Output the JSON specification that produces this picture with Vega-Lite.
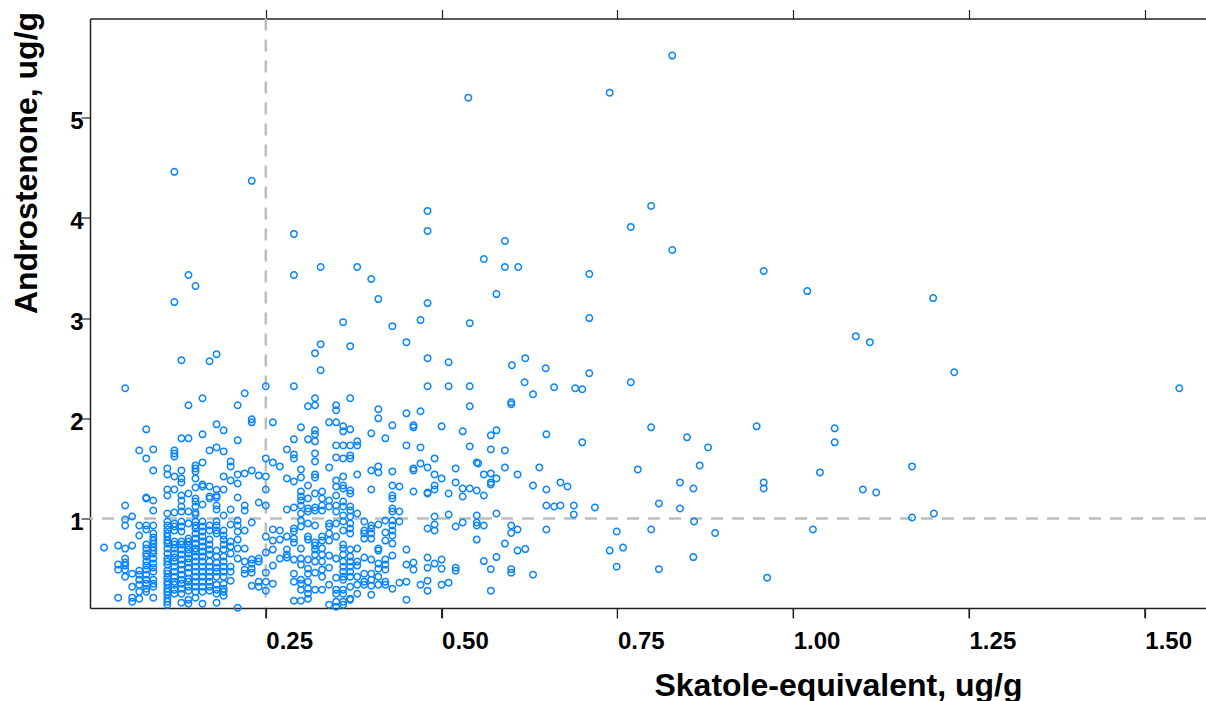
{"$schema":"https://vega.github.io/schema/vega-lite/v6.json","width":1116,"height":589.5,"autosize":"none","padding":{"left":90,"top":18.5,"right":0,"bottom":93},"background":"white","config":{"view":{"stroke":null},"axis":{"grid":false,"labelFont":"Liberation Sans","labelFontWeight":"bold","labelFontSize":24,"labelColor":"#000","titleFont":"Liberation Sans","titleFontWeight":"bold","titleFontSize":32,"titleColor":"#000","domainColor":"#222","domainWidth":1.5,"tickColor":"#222","tickWidth":1.2}},"resolve":{"axis":{"x":"independent"}},"layer":[{"data":{"values":[{"x":0.25}]},"mark":{"type":"rule","color":"#bdbdbd","strokeWidth":2.5,"strokeDash":[12,9]},"encoding":{"x":{"field":"x","type":"quantitative","scale":{"domain":[0,1.587],"nice":false,"zero":false},"axis":{"orient":"top","values":[0.25,0.5,0.75,1,1.25,1.5],"labels":false,"tickSize":9,"title":null}}}},{"data":{"values":[{"y":1}]},"mark":{"type":"rule","color":"#bdbdbd","strokeWidth":2.5,"strokeDash":[12,9]},"encoding":{"y":{"field":"y","type":"quantitative","scale":{"domain":[0.107,5.99],"nice":false,"zero":false},"axis":{"values":[1,2,3,4,5],"format":"d","tickSize":9,"labelPadding":-2,"labelOffset":4,"labelFlush":false,"title":"Androstenone, ug/g","titleX":-54,"titleY":144,"titleAnchor":"middle","titleAlign":"center","titleBaseline":"alphabetic"}}}},{"data":{"values":[{"x":0.25,"y":0.107},{"x":0.5,"y":0.107},{"x":0.75,"y":0.107},{"x":1,"y":0.107},{"x":1.25,"y":0.107},{"x":1.5,"y":0.107}]},"mark":{"type":"tick","orient":"vertical","color":"#222","size":10,"thickness":1.2,"yOffset":5,"opacity":1},"encoding":{"x":{"field":"x","type":"quantitative","scale":{"domain":[0,1.587],"nice":false,"zero":false},"axis":null},"y":{"field":"y","type":"quantitative","scale":{"domain":[0.107,5.99],"nice":false,"zero":false}}}},{"data":{"values":[
{"x":0.02,"y":0.71},{"x":0.04,"y":0.73},{"x":0.04,"y":0.54},{"x":0.04,"y":0.49},{"x":0.04,"y":0.21},
{"x":0.05,"y":2.3},{"x":0.05,"y":1.13},{"x":0.05,"y":0.99},{"x":0.05,"y":0.93},{"x":0.05,"y":0.7},{"x":0.05,"y":0.6},{"x":0.05,"y":0.56},{"x":0.05,"y":0.53},{"x":0.05,"y":0.49},{"x":0.05,"y":0.42},
{"x":0.06,"y":1.02},{"x":0.06,"y":0.73},{"x":0.06,"y":0.45},{"x":0.06,"y":0.32},{"x":0.06,"y":0.21},{"x":0.06,"y":0.17},
{"x":0.07,"y":1.68},{"x":0.07,"y":0.93},{"x":0.07,"y":0.83},{"x":0.07,"y":0.48},{"x":0.07,"y":0.44},{"x":0.07,"y":0.39},{"x":0.07,"y":0.34},{"x":0.07,"y":0.27},{"x":0.07,"y":0.2},
{"x":0.08,"y":1.89},{"x":0.08,"y":1.6},{"x":0.08,"y":1.21},{"x":0.08,"y":1.2},{"x":0.08,"y":0.93},{"x":0.08,"y":0.89},{"x":0.08,"y":0.74},{"x":0.08,"y":0.7},{"x":0.08,"y":0.65},{"x":0.08,"y":0.62},{"x":0.08,"y":0.57},{"x":0.08,"y":0.53},{"x":0.08,"y":0.49},{"x":0.08,"y":0.44},{"x":0.08,"y":0.39},{"x":0.08,"y":0.35},{"x":0.08,"y":0.3},{"x":0.08,"y":0.27},
{"x":0.09,"y":1.69},{"x":0.09,"y":1.48},{"x":0.09,"y":1.18},{"x":0.09,"y":1.08},{"x":0.09,"y":0.93},{"x":0.09,"y":0.85},{"x":0.09,"y":0.81},{"x":0.09,"y":0.78},{"x":0.09,"y":0.75},{"x":0.09,"y":0.71},{"x":0.09,"y":0.68},{"x":0.09,"y":0.65},{"x":0.09,"y":0.6},{"x":0.09,"y":0.55},{"x":0.09,"y":0.51},{"x":0.09,"y":0.47},{"x":0.09,"y":0.39},{"x":0.09,"y":0.35},{"x":0.09,"y":0.32},{"x":0.09,"y":0.21},
{"x":0.11,"y":1.5},{"x":0.11,"y":1.44},{"x":0.11,"y":1.29},{"x":0.11,"y":1.23},{"x":0.11,"y":1.05},{"x":0.11,"y":0.97},{"x":0.11,"y":0.93},{"x":0.11,"y":0.89},{"x":0.11,"y":0.85},{"x":0.11,"y":0.82},{"x":0.11,"y":0.78},{"x":0.11,"y":0.75},{"x":0.11,"y":0.7},{"x":0.11,"y":0.65},{"x":0.11,"y":0.6},{"x":0.11,"y":0.57},{"x":0.11,"y":0.54},{"x":0.11,"y":0.48},{"x":0.11,"y":0.45},{"x":0.11,"y":0.41},{"x":0.11,"y":0.37},{"x":0.11,"y":0.34},{"x":0.11,"y":0.3},{"x":0.11,"y":0.27},{"x":0.11,"y":0.24},{"x":0.11,"y":0.2},{"x":0.11,"y":0.17},{"x":0.11,"y":0.14},
{"x":0.12,"y":4.46},{"x":0.12,"y":3.16},{"x":0.12,"y":1.68},{"x":0.12,"y":1.65},{"x":0.12,"y":1.62},{"x":0.12,"y":1.42},{"x":0.12,"y":1.29},{"x":0.12,"y":1.06},{"x":0.12,"y":0.95},{"x":0.12,"y":0.92},{"x":0.12,"y":0.88},{"x":0.12,"y":0.77},{"x":0.12,"y":0.74},{"x":0.12,"y":0.7},{"x":0.12,"y":0.65},{"x":0.12,"y":0.61},{"x":0.12,"y":0.57},{"x":0.12,"y":0.52},{"x":0.12,"y":0.47},{"x":0.12,"y":0.42},{"x":0.12,"y":0.37},{"x":0.12,"y":0.34},{"x":0.12,"y":0.29},{"x":0.12,"y":0.25},
{"x":0.13,"y":2.58},{"x":0.13,"y":1.8},{"x":0.13,"y":1.48},{"x":0.13,"y":1.4},{"x":0.13,"y":1.36},{"x":0.13,"y":1.23},{"x":0.13,"y":1.18},{"x":0.13,"y":1.12},{"x":0.13,"y":1.07},{"x":0.13,"y":0.97},{"x":0.13,"y":0.92},{"x":0.13,"y":0.87},{"x":0.13,"y":0.77},{"x":0.13,"y":0.74},{"x":0.13,"y":0.69},{"x":0.13,"y":0.64},{"x":0.13,"y":0.59},{"x":0.13,"y":0.54},{"x":0.13,"y":0.49},{"x":0.13,"y":0.44},{"x":0.13,"y":0.39},{"x":0.13,"y":0.35},{"x":0.13,"y":0.3},{"x":0.13,"y":0.25},{"x":0.13,"y":0.16},
{"x":0.14,"y":3.43},{"x":0.14,"y":2.13},{"x":0.14,"y":1.8},{"x":0.14,"y":1.25},{"x":0.14,"y":1.07},{"x":0.14,"y":0.95},{"x":0.14,"y":0.8},{"x":0.14,"y":0.77},{"x":0.14,"y":0.73},{"x":0.14,"y":0.69},{"x":0.14,"y":0.65},{"x":0.14,"y":0.6},{"x":0.14,"y":0.56},{"x":0.14,"y":0.51},{"x":0.14,"y":0.46},{"x":0.14,"y":0.4},{"x":0.14,"y":0.37},{"x":0.14,"y":0.32},{"x":0.14,"y":0.28},{"x":0.14,"y":0.19},{"x":0.14,"y":0.15},
{"x":0.15,"y":3.32},{"x":0.15,"y":1.53},{"x":0.15,"y":1.5},{"x":0.15,"y":1.47},{"x":0.15,"y":1.4},{"x":0.15,"y":1.31},{"x":0.15,"y":1.2},{"x":0.15,"y":1.17},{"x":0.15,"y":1.12},{"x":0.15,"y":1.06},{"x":0.15,"y":1.04},{"x":0.15,"y":0.97},{"x":0.15,"y":0.93},{"x":0.15,"y":0.9},{"x":0.15,"y":0.85},{"x":0.15,"y":0.8},{"x":0.15,"y":0.75},{"x":0.15,"y":0.7},{"x":0.15,"y":0.67},{"x":0.15,"y":0.62},{"x":0.15,"y":0.57},{"x":0.15,"y":0.52},{"x":0.15,"y":0.47},{"x":0.15,"y":0.42},{"x":0.15,"y":0.37},{"x":0.15,"y":0.32},{"x":0.15,"y":0.27},{"x":0.15,"y":0.21},
{"x":0.16,"y":2.2},{"x":0.16,"y":1.84},{"x":0.16,"y":1.56},{"x":0.16,"y":1.34},{"x":0.16,"y":1.32},{"x":0.16,"y":1.14},{"x":0.16,"y":0.97},{"x":0.16,"y":0.92},{"x":0.16,"y":0.87},{"x":0.16,"y":0.82},{"x":0.16,"y":0.77},{"x":0.16,"y":0.72},{"x":0.16,"y":0.67},{"x":0.16,"y":0.62},{"x":0.16,"y":0.57},{"x":0.16,"y":0.52},{"x":0.16,"y":0.47},{"x":0.16,"y":0.42},{"x":0.16,"y":0.37},{"x":0.16,"y":0.32},{"x":0.16,"y":0.27},{"x":0.16,"y":0.15},
{"x":0.17,"y":2.57},{"x":0.17,"y":1.68},{"x":0.17,"y":1.32},{"x":0.17,"y":1.22},{"x":0.17,"y":1.2},{"x":0.17,"y":0.93},{"x":0.17,"y":0.88},{"x":0.17,"y":0.79},{"x":0.17,"y":0.74},{"x":0.17,"y":0.69},{"x":0.17,"y":0.64},{"x":0.17,"y":0.57},{"x":0.17,"y":0.52},{"x":0.17,"y":0.47},{"x":0.17,"y":0.42},{"x":0.17,"y":0.37},{"x":0.17,"y":0.32},{"x":0.17,"y":0.28},
{"x":0.18,"y":2.64},{"x":0.18,"y":1.94},{"x":0.18,"y":1.71},{"x":0.18,"y":1.29},{"x":0.18,"y":1.23},{"x":0.18,"y":1.21},{"x":0.18,"y":1.13},{"x":0.18,"y":1.09},{"x":0.18,"y":0.97},{"x":0.18,"y":0.93},{"x":0.18,"y":0.88},{"x":0.18,"y":0.85},{"x":0.18,"y":0.68},{"x":0.18,"y":0.62},{"x":0.18,"y":0.56},{"x":0.18,"y":0.51},{"x":0.18,"y":0.47},{"x":0.18,"y":0.42},{"x":0.18,"y":0.34},{"x":0.18,"y":0.29},{"x":0.18,"y":0.25},{"x":0.18,"y":0.16},
{"x":0.19,"y":1.88},{"x":0.19,"y":1.67},{"x":0.19,"y":1.42},{"x":0.19,"y":1.29},{"x":0.19,"y":1.03},{"x":0.19,"y":0.88},{"x":0.19,"y":0.83},{"x":0.19,"y":0.79},{"x":0.19,"y":0.74},{"x":0.19,"y":0.69},{"x":0.19,"y":0.62},{"x":0.19,"y":0.57},{"x":0.19,"y":0.52},{"x":0.19,"y":0.47},{"x":0.19,"y":0.42},{"x":0.19,"y":0.35},{"x":0.19,"y":0.3},{"x":0.19,"y":0.27},{"x":0.19,"y":0.23},
{"x":0.2,"y":1.57},{"x":0.2,"y":1.52},{"x":0.2,"y":1.38},{"x":0.2,"y":1.09},{"x":0.2,"y":0.94},{"x":0.2,"y":0.77},{"x":0.2,"y":0.72},{"x":0.2,"y":0.65},{"x":0.2,"y":0.52},{"x":0.2,"y":0.47},{"x":0.2,"y":0.38},
{"x":0.21,"y":2.13},{"x":0.21,"y":1.78},{"x":0.21,"y":1.44},{"x":0.21,"y":1.35},{"x":0.21,"y":1.21},{"x":0.21,"y":0.98},{"x":0.21,"y":0.93},{"x":0.21,"y":0.87},{"x":0.21,"y":0.79},{"x":0.21,"y":0.7},{"x":0.21,"y":0.6},{"x":0.21,"y":0.11},
{"x":0.22,"y":2.25},{"x":0.22,"y":1.45},{"x":0.22,"y":1.13},{"x":0.22,"y":1.08},{"x":0.22,"y":0.88},{"x":0.22,"y":0.7},{"x":0.22,"y":0.57},{"x":0.22,"y":0.49},{"x":0.22,"y":0.45},
{"x":0.23,"y":4.37},{"x":0.23,"y":1.99},{"x":0.23,"y":1.96},{"x":0.23,"y":1.48},{"x":0.23,"y":0.96},{"x":0.23,"y":0.59},{"x":0.23,"y":0.55},{"x":0.23,"y":0.5},{"x":0.23,"y":0.46},{"x":0.23,"y":0.33},
{"x":0.24,"y":1.43},{"x":0.24,"y":1.16},{"x":0.24,"y":0.6},{"x":0.24,"y":0.57},{"x":0.24,"y":0.37},{"x":0.24,"y":0.32},
{"x":0.25,"y":2.32},{"x":0.25,"y":1.6},{"x":0.25,"y":1.42},{"x":0.25,"y":1.29},{"x":0.25,"y":1.13},{"x":0.25,"y":0.82},{"x":0.25,"y":0.66},{"x":0.25,"y":0.46},{"x":0.25,"y":0.37},{"x":0.25,"y":0.28},
{"x":0.26,"y":1.96},{"x":0.26,"y":1.56},{"x":0.26,"y":0.89},{"x":0.26,"y":0.78},{"x":0.26,"y":0.69},{"x":0.26,"y":0.53},{"x":0.26,"y":0.35},
{"x":0.27,"y":1.52},{"x":0.27,"y":0.88},{"x":0.27,"y":0.79},{"x":0.27,"y":0.6},
{"x":0.28,"y":1.69},{"x":0.28,"y":1.4},{"x":0.28,"y":1.09},{"x":0.28,"y":0.82},{"x":0.28,"y":0.69},{"x":0.28,"y":0.64},{"x":0.28,"y":0.61},
{"x":0.29,"y":3.84},{"x":0.29,"y":3.43},{"x":0.29,"y":2.32},{"x":0.29,"y":1.79},{"x":0.29,"y":1.64},{"x":0.29,"y":1.6},{"x":0.29,"y":1.37},{"x":0.29,"y":1.11},{"x":0.29,"y":0.9},{"x":0.29,"y":0.87},{"x":0.29,"y":0.8},{"x":0.29,"y":0.76},{"x":0.29,"y":0.59},{"x":0.29,"y":0.45},{"x":0.29,"y":0.37},{"x":0.29,"y":0.18},
{"x":0.3,"y":1.91},{"x":0.3,"y":1.49},{"x":0.3,"y":1.41},{"x":0.3,"y":1.27},{"x":0.3,"y":1.22},{"x":0.3,"y":1.18},{"x":0.3,"y":1.13},{"x":0.3,"y":1.05},{"x":0.3,"y":0.98},{"x":0.3,"y":0.92},{"x":0.3,"y":0.7},{"x":0.3,"y":0.6},{"x":0.3,"y":0.54},{"x":0.3,"y":0.39},{"x":0.3,"y":0.35},{"x":0.3,"y":0.29},{"x":0.3,"y":0.18},
{"x":0.31,"y":2.12},{"x":0.31,"y":1.79},{"x":0.31,"y":1.33},{"x":0.31,"y":1.2},{"x":0.31,"y":1.1},{"x":0.31,"y":1.07},{"x":0.31,"y":0.95},{"x":0.31,"y":0.82},{"x":0.31,"y":0.79},{"x":0.31,"y":0.59},{"x":0.31,"y":0.5},{"x":0.31,"y":0.45},{"x":0.31,"y":0.37},{"x":0.31,"y":0.3},{"x":0.31,"y":0.25},{"x":0.31,"y":0.2},
{"x":0.32,"y":2.65},{"x":0.32,"y":2.2},{"x":0.32,"y":2.13},{"x":0.32,"y":1.88},{"x":0.32,"y":1.84},{"x":0.32,"y":1.77},{"x":0.32,"y":1.65},{"x":0.32,"y":1.57},{"x":0.32,"y":1.44},{"x":0.32,"y":1.41},{"x":0.32,"y":1.25},{"x":0.32,"y":1.11},{"x":0.32,"y":1.08},{"x":0.32,"y":0.93},{"x":0.32,"y":0.76},{"x":0.32,"y":0.73},{"x":0.32,"y":0.69},{"x":0.32,"y":0.64},{"x":0.32,"y":0.57},{"x":0.32,"y":0.46},{"x":0.32,"y":0.29},
{"x":0.328,"y":3.51},{"x":0.328,"y":2.74},{"x":0.328,"y":2.48},{"x":0.33,"y":1.27},{"x":0.33,"y":1.2},{"x":0.33,"y":1.13},{"x":0.33,"y":1.08},{"x":0.33,"y":0.82},{"x":0.33,"y":0.78},{"x":0.33,"y":0.7},{"x":0.33,"y":0.64},{"x":0.33,"y":0.57},{"x":0.33,"y":0.49},{"x":0.33,"y":0.42},{"x":0.33,"y":0.29},
{"x":0.34,"y":1.96},{"x":0.34,"y":1.51},{"x":0.34,"y":1.18},{"x":0.34,"y":1.12},{"x":0.34,"y":0.95},{"x":0.34,"y":0.92},{"x":0.34,"y":0.85},{"x":0.34,"y":0.78},{"x":0.34,"y":0.63},{"x":0.34,"y":0.51},{"x":0.34,"y":0.34},{"x":0.34,"y":0.14},
{"x":0.35,"y":2.13},{"x":0.35,"y":2.08},{"x":0.35,"y":1.96},{"x":0.35,"y":1.73},{"x":0.35,"y":1.61},{"x":0.35,"y":1.38},{"x":0.35,"y":1.32},{"x":0.35,"y":1.23},{"x":0.35,"y":1.13},{"x":0.35,"y":1.07},{"x":0.35,"y":0.95},{"x":0.35,"y":0.82},{"x":0.35,"y":0.6},{"x":0.35,"y":0.41},{"x":0.35,"y":0.29},{"x":0.35,"y":0.25},{"x":0.35,"y":0.17},{"x":0.35,"y":0.12},
{"x":0.36,"y":2.96},{"x":0.36,"y":1.92},{"x":0.36,"y":1.87},{"x":0.36,"y":1.73},{"x":0.36,"y":1.6},{"x":0.36,"y":1.42},{"x":0.36,"y":1.33},{"x":0.36,"y":1.3},{"x":0.36,"y":1.17},{"x":0.36,"y":1.12},{"x":0.36,"y":1.03},{"x":0.36,"y":0.97},{"x":0.36,"y":0.88},{"x":0.36,"y":0.74},{"x":0.36,"y":0.7},{"x":0.36,"y":0.64},{"x":0.36,"y":0.57},{"x":0.36,"y":0.52},{"x":0.36,"y":0.47},{"x":0.36,"y":0.42},{"x":0.36,"y":0.39},{"x":0.36,"y":0.29},{"x":0.36,"y":0.25},{"x":0.36,"y":0.17},{"x":0.36,"y":0.14},
{"x":0.37,"y":2.72},{"x":0.37,"y":2.2},{"x":0.37,"y":1.89},{"x":0.37,"y":1.73},{"x":0.37,"y":1.63},{"x":0.37,"y":1.6},{"x":0.37,"y":1.28},{"x":0.37,"y":1.25},{"x":0.37,"y":1.12},{"x":0.37,"y":1.08},{"x":0.37,"y":1.02},{"x":0.37,"y":0.95},{"x":0.37,"y":0.9},{"x":0.37,"y":0.85},{"x":0.37,"y":0.69},{"x":0.37,"y":0.62},{"x":0.37,"y":0.57},{"x":0.37,"y":0.52},{"x":0.37,"y":0.47},{"x":0.37,"y":0.42},{"x":0.37,"y":0.32},{"x":0.37,"y":0.2},{"x":0.37,"y":0.19},
{"x":0.38,"y":3.51},{"x":0.38,"y":1.77},{"x":0.38,"y":1.73},{"x":0.38,"y":1.44},{"x":0.38,"y":1.05},{"x":0.38,"y":0.7},{"x":0.38,"y":0.57},{"x":0.38,"y":0.53},{"x":0.38,"y":0.42},{"x":0.38,"y":0.34},{"x":0.38,"y":0.25},
{"x":0.39,"y":0.97},{"x":0.39,"y":0.88},{"x":0.39,"y":0.85},{"x":0.39,"y":0.8},{"x":0.39,"y":0.61},{"x":0.39,"y":0.45},{"x":0.39,"y":0.37},{"x":0.39,"y":0.34},
{"x":0.4,"y":3.39},{"x":0.4,"y":1.85},{"x":0.4,"y":1.48},{"x":0.4,"y":1.29},{"x":0.4,"y":0.93},{"x":0.4,"y":0.9},{"x":0.4,"y":0.85},{"x":0.4,"y":0.8},{"x":0.4,"y":0.59},{"x":0.4,"y":0.45},{"x":0.4,"y":0.39},{"x":0.4,"y":0.33},{"x":0.4,"y":0.24},
{"x":0.41,"y":3.19},{"x":0.41,"y":2.09},{"x":0.41,"y":2},{"x":0.41,"y":1.52},{"x":0.41,"y":1.46},{"x":0.41,"y":0.94},{"x":0.41,"y":0.7},{"x":0.41,"y":0.68},{"x":0.41,"y":0.55},{"x":0.41,"y":0.5},{"x":0.41,"y":0.42},{"x":0.41,"y":0.34},
{"x":0.42,"y":1.8},{"x":0.42,"y":0.98},{"x":0.42,"y":0.86},{"x":0.42,"y":0.78},{"x":0.42,"y":0.59},{"x":0.42,"y":0.54},{"x":0.42,"y":0.49},{"x":0.42,"y":0.37},{"x":0.42,"y":0.34},
{"x":0.43,"y":2.92},{"x":0.43,"y":1.93},{"x":0.43,"y":1.47},{"x":0.43,"y":1.33},{"x":0.43,"y":1.23},{"x":0.43,"y":1.2},{"x":0.43,"y":1.1},{"x":0.43,"y":1.07},{"x":0.43,"y":0.98},{"x":0.43,"y":0.93},{"x":0.43,"y":0.88},{"x":0.43,"y":0.83},{"x":0.43,"y":0.75},{"x":0.43,"y":0.63},{"x":0.43,"y":0.3},
{"x":0.44,"y":1.32},{"x":0.44,"y":1.07},{"x":0.44,"y":0.97},{"x":0.44,"y":0.36},
{"x":0.45,"y":2.76},{"x":0.45,"y":2.05},{"x":0.45,"y":1.73},{"x":0.45,"y":0.69},{"x":0.45,"y":0.54},{"x":0.45,"y":0.37},{"x":0.45,"y":0.19},
{"x":0.46,"y":1.93},{"x":0.46,"y":1.91},{"x":0.46,"y":1.5},{"x":0.46,"y":1.48},{"x":0.46,"y":1.27},{"x":0.46,"y":0.56},{"x":0.46,"y":0.49},
{"x":0.47,"y":2.98},{"x":0.47,"y":2.07},{"x":0.47,"y":1.71},{"x":0.47,"y":1.55},{"x":0.47,"y":0.34},
{"x":0.48,"y":4.07},{"x":0.48,"y":3.87},{"x":0.48,"y":3.15},{"x":0.48,"y":2.6},{"x":0.48,"y":2.32},{"x":0.48,"y":1.51},{"x":0.48,"y":1.25},{"x":0.48,"y":1.26},{"x":0.48,"y":0.9},{"x":0.48,"y":0.61},{"x":0.48,"y":0.51},{"x":0.48,"y":0.38},{"x":0.48,"y":0.28},
{"x":0.49,"y":1.6},{"x":0.49,"y":1.44},{"x":0.49,"y":1.33},{"x":0.49,"y":1.29},{"x":0.49,"y":1.02},{"x":0.49,"y":0.94},{"x":0.49,"y":0.88},{"x":0.49,"y":0.55},
{"x":0.5,"y":1.92},{"x":0.5,"y":1.4},{"x":0.5,"y":0.59},{"x":0.5,"y":0.5},{"x":0.5,"y":0.34},
{"x":0.51,"y":2.56},{"x":0.51,"y":2.32},{"x":0.51,"y":1.25},{"x":0.51,"y":1.04},{"x":0.51,"y":0.36},
{"x":0.52,"y":1.5},{"x":0.52,"y":1.36},{"x":0.52,"y":0.92},{"x":0.52,"y":0.51},{"x":0.52,"y":0.48},
{"x":0.53,"y":1.87},{"x":0.53,"y":1.3},{"x":0.53,"y":1.22},{"x":0.53,"y":0.96},
{"x":0.538,"y":5.2},{"x":0.54,"y":2.95},{"x":0.54,"y":2.32},{"x":0.54,"y":2.12},{"x":0.54,"y":1.72},{"x":0.54,"y":1.3},
{"x":0.618,"y":2.36},{"x":0.66,"y":2.31},{"x":0.7,"y":2.29},{"x":0.769,"y":2.36},{"x":0.63,"y":2.24},{"x":0.599,"y":2.16},{"x":0.599,"y":2.14},{"x":0.798,"y":1.91},{"x":0.649,"y":1.84},{"x":0.578,"y":1.88},{"x":0.57,"y":1.83},{"x":0.7,"y":1.76},{"x":0.57,"y":1.69},{"x":0.59,"y":1.68},{"x":0.55,"y":1.56},{"x":0.552,"y":1.55},{"x":0.59,"y":1.51},{"x":0.639,"y":1.51},{"x":0.779,"y":1.49},{"x":0.56,"y":1.44},{"x":0.57,"y":1.45},{"x":0.578,"y":1.4},{"x":0.608,"y":1.44},{"x":0.57,"y":1.36},{"x":0.57,"y":1.34},{"x":0.63,"y":1.33},{"x":0.649,"y":1.29},{"x":0.669,"y":1.36},{"x":0.679,"y":1.32},{"x":0.55,"y":1.28},{"x":0.56,"y":1.23},{"x":0.649,"y":1.13},{"x":0.66,"y":1.12},{"x":0.669,"y":1.13},{"x":0.688,"y":1.13},{"x":0.718,"y":1.11},{"x":0.809,"y":1.15},{"x":0.688,"y":1.04},{"x":0.578,"y":1.05},{"x":0.55,"y":1.03},{"x":0.55,"y":0.96},{"x":0.55,"y":0.93},{"x":0.56,"y":0.93},{"x":0.599,"y":0.93},{"x":0.608,"y":0.89},{"x":0.599,"y":0.855},{"x":0.649,"y":0.89},{"x":0.749,"y":0.87},{"x":0.798,"y":0.89},{"x":0.55,"y":0.79},{"x":0.59,"y":0.75},{"x":0.608,"y":0.68},{"x":0.619,"y":0.695},{"x":0.739,"y":0.68},{"x":0.758,"y":0.71},{"x":0.578,"y":0.615},{"x":0.56,"y":0.575},{"x":0.57,"y":0.495},{"x":0.599,"y":0.495},{"x":0.599,"y":0.46},{"x":0.63,"y":0.44},{"x":0.749,"y":0.52},{"x":0.809,"y":0.495},{"x":0.57,"y":0.28},
{"x":1.549,"y":2.3},{"x":1.229,"y":2.46},{"x":1.199,"y":3.2},{"x":1.169,"y":1.52},{"x":1.169,"y":1.01},{"x":1.2,"y":1.05},{"x":1.109,"y":2.76},{"x":1.089,"y":2.82},{"x":1.02,"y":3.27},{"x":0.958,"y":3.47},{"x":1.059,"y":1.9},{"x":1.059,"y":1.76},{"x":1.038,"y":1.46},{"x":1.099,"y":1.29},{"x":1.118,"y":1.26},{"x":1.028,"y":0.89},{"x":0.963,"y":0.41},{"x":0.948,"y":1.92},{"x":0.958,"y":1.36},{"x":0.958,"y":1.3},{"x":0.879,"y":1.71},{"x":0.849,"y":1.81},{"x":0.867,"y":1.53},{"x":0.839,"y":1.36},{"x":0.858,"y":1.3},{"x":0.839,"y":1.1},{"x":0.859,"y":0.97},{"x":0.889,"y":0.855},{"x":0.858,"y":0.615},
{"x":0.828,"y":5.62},{"x":0.739,"y":5.25},{"x":0.798,"y":4.12},{"x":0.769,"y":3.91},{"x":0.828,"y":3.68},{"x":0.71,"y":3.44},{"x":0.71,"y":3},{"x":0.71,"y":2.45},{"x":0.59,"y":3.77},{"x":0.56,"y":3.59},{"x":0.59,"y":3.51},{"x":0.609,"y":3.51},{"x":0.578,"y":3.24},{"x":0.619,"y":2.6},{"x":0.6,"y":2.53},{"x":0.648,"y":2.5},{"x":0.69,"y":2.3}
]},"mark":{"type":"point","filled":false,"stroke":"#0a84ff","strokeWidth":1.5,"size":42,"opacity":1},"encoding":{"x":{"field":"x","type":"quantitative","scale":{"domain":[0,1.587],"nice":false,"zero":false},"axis":{"orient":"bottom","values":[0.25,0.5,0.75,1,1.25,1.5],"format":".2f","ticks":true,"tickSize":10,"labelAlign":"left","labelBaseline":"top","labelPadding":11,"labelFlush":false,"labelOverlap":false,"title":"Skatole-equivalent, ug/g","titleX":748,"titleY":87,"titleAnchor":"middle","titleAlign":"center","titleBaseline":"alphabetic"}},"y":{"field":"y","type":"quantitative","scale":{"domain":[0.107,5.99],"nice":false,"zero":false}}}}]}
